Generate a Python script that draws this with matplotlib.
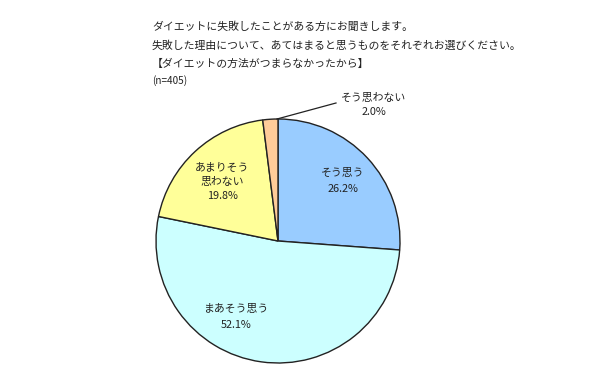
import matplotlib
matplotlib.use("Agg")
import matplotlib.pyplot as plt

plt.rcParams['font.family'] = ['Noto Sans CJK JP', 'DejaVu Sans']

# Data
categories = ["そう思う", "まあそう思う", "あまりそう思わない", "そう思わない"]
values = [26.2, 52.1, 19.8, 2.0]
colors = ["#99CCFF", "#CCFFFF", "#FFFF99", "#FFCC99"]
title_lines = [
    "ダイエットに失敗したことがある方にお聞きします。",
    "失敗した理由について、あてはまると思うものをそれぞれお選びください。",
    "【ダイエットの方法がつまらなかったから】",
    "(n=405)",
]
label_texts = ["そう思う\n26.2%", "まあそう思う\n52.1%", "あまりそう\n思わない\n19.8%", "そう思わない\n2.0%"]

W, H = 615, 390
fig = plt.figure(figsize=(W / 100, H / 100), dpi=100)
ax = fig.add_axes([0, 0, 1, 1])

cx, cy, r = 278, H - 241, 122
ax.pie(values, colors=colors, startangle=90, counterclock=False,
       center=(cx, cy), radius=r,
       wedgeprops=dict(edgecolor="#222222", linewidth=1.0))
ax.set_xlim(0, W)
ax.set_ylim(0, H)
ax.set_aspect('equal')
ax.axis('off')

fs = 7.8
# title
for i, (line, y) in enumerate(zip(title_lines, [27, 46, 64, 81])):
    ax.text(152, H - y, line, fontsize=fs if i < 3 else 7.2, color="#222222",
            ha='left', va='center')

# slice labels
label_pos = [(343, 181), (236, 317), (222, 182), (374, 105)]
spacings = [1.75, 1.75, 1.5, 1.45]
for txt, (x, y), ls in zip(label_texts, label_pos, spacings):
    ax.text(x, H - y, txt, fontsize=fs, color="#222222", ha='center', va='center',
            linespacing=ls)

# leader line for small slice
ax.plot([336, 277], [H - 103, H - 119], color="#222222", linewidth=0.9)

fig.savefig("out.png", dpi=100, facecolor="white")
